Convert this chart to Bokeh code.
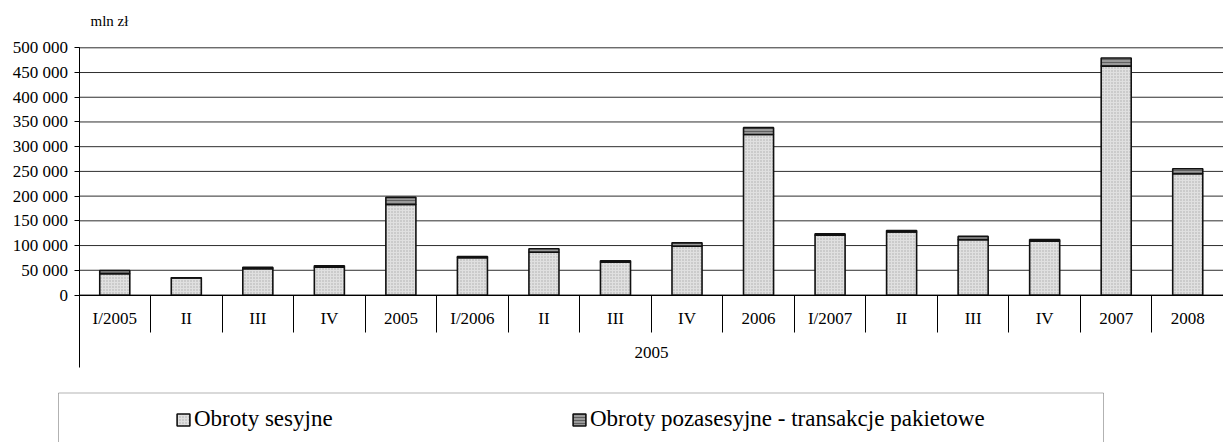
from bokeh.plotting import figure
from bokeh.models import (ColumnDataSource, FixedTicker, Label, Legend, LegendItem,
                          BoxAnnotation, Range1d)
from bokeh.embed import file_html
from bokeh.resources import INLINE

# ---------------- data ----------------
categories = ["I/2005", "II", "III", "IV", "2005", "I/2006", "II", "III", "IV", "2006",
              "I/2007", "II", "III", "IV", "2007", "2008"]
sesyjne = [43000, 34500, 53000, 56000, 183000, 75500, 86500, 66500, 98500, 324500,
           121000, 127500, 112000, 109000, 463000, 245500]
pakietowe = [6500, 300, 3000, 3000, 14500, 2500, 7000, 2800, 7000, 14000,
             3000, 3000, 6500, 3000, 16500, 10000]
y_ticks = [0, 50000, 100000, 150000, 200000, 250000, 300000, 350000, 400000, 450000, 500000]
y_tick_labels = ["0", "50 000", "100 000", "150 000", "200 000", "250 000", "300 000",
                 "350 000", "400 000", "450 000", "500 000"]
unit_label = "mln zł"
group_label = "2005"
legend_labels = ["Obroty sesyjne", "Obroty pozasesyjne - transakcje pakietowe"]

# ---------------- layout (pixels) ----------------
W, H = 1223, 442
axis_px = 78.5          # y axis position from canvas left
zero_px = 294.5         # zero line from canvas top
top_px = 47.3           # 500 000 line from canvas top
n = len(categories)
cat_w = (W - axis_px) / n
per_px = 500000 / (zero_px - top_px)

def xd(px):
    return (px - axis_px) / cat_w

def yd(px):
    return (zero_px - px) * per_px

FONT = "Liberation Serif"

p = figure(width=W, height=H, output_backend="svg", toolbar_location=None,
           x_range=Range1d(xd(0), xd(W)), y_range=Range1d(yd(H), yd(0)),
           min_border=0, min_border_left=0, min_border_right=0,
           min_border_top=0, min_border_bottom=0)
p.outline_line_color = None
p.xgrid.visible = False
p.ygrid.visible = False

xc = [i + 0.5 for i in range(n)]
totals = [a + b for a, b in zip(sesyjne, pakietowe)]
src = ColumnDataSource(dict(x=xc, ses=sesyjne, tot=totals, cat=categories))

# horizontal grid lines (from axis to right edge)
p.segment(x0=[0] * len(y_ticks), x1=[n] * len(y_ticks), y0=y_ticks, y1=y_ticks,
          line_color="#2e2e2e", line_width=1)

r1 = p.vbar(x="x", bottom=0, top="ses", width=0.42, source=src,
            fill_color="#e0e0e0", line_color="#111111", line_width=1.6,
            hatch_pattern="dot", hatch_color="#adadad", hatch_scale=3, hatch_weight=0.8)
r2 = p.vbar(x="x", bottom="ses", top="tot", width=0.42, source=src,
            fill_color="#9a9a9a", line_color="#111111", line_width=1.6,
            hatch_pattern="horizontal_line", hatch_color="#606060", hatch_scale=3,
            hatch_weight=1)

# y axis
ya = p.yaxis[0]
ya.fixed_location = 0
ya.bounds = (yd(367), 500000)
ya.ticker = FixedTicker(ticks=y_ticks)
ya.major_label_overrides = {t: l for t, l in zip(y_ticks, y_tick_labels)}
ya.minor_tick_line_color = None
ya.major_tick_out = 5
ya.major_tick_in = 0
ya.major_label_standoff = 6
ya.axis_line_color = "black"
ya.major_tick_line_color = "black"
ya.major_label_text_font = FONT
ya.major_label_text_font_size = "17px"
ya.major_label_text_color = "black"

# x axis
xa = p.xaxis[0]
xa.fixed_location = 0
xa.bounds = (0, n)
xa.ticker = FixedTicker(ticks=xc, minor_ticks=list(range(n + 1)))
xa.major_label_overrides = {x: c for x, c in zip(xc, categories)}
xa.major_tick_out = 0
xa.major_tick_in = 0
xa.minor_tick_out = 37
xa.minor_tick_in = 0
xa.minor_tick_line_color = "black"
xa.axis_line_color = "black"
xa.major_label_standoff = -23
xa.major_label_text_font = FONT
xa.major_label_text_font_size = "17px"
xa.major_label_text_color = "black"
xa.axis_label = group_label
xa.axis_label_standoff = 15
xa.axis_label_text_font = FONT
xa.axis_label_text_font_size = "17px"
xa.axis_label_text_font_style = "normal"
xa.axis_label_text_color = "black"

# unit label
p.add_layout(Label(x=xd(90), y=yd(20), text=unit_label, text_baseline="middle",
                   text_font=FONT, text_font_size="15px", text_color="black"))

# legend frame
p.add_layout(BoxAnnotation(left=xd(58), right=xd(1103), top=yd(392.5), bottom=yd(H + 60),
                           fill_alpha=0, line_color="black", line_width=1))

legend = Legend(items=[LegendItem(label=legend_labels[0], renderers=[r1]),
                       LegendItem(label=legend_labels[1], renderers=[r2])],
                orientation="horizontal", location=(175, 10), padding=0, spacing=0,
                margin=0, label_width=377, glyph_width=16, glyph_height=15,
                label_standoff=3, border_line_color=None, background_fill_alpha=0,
                label_text_font=FONT, label_text_font_size="23px",
                label_text_color="black")
p.add_layout(legend)

open("out.html", "w").write(file_html(p, INLINE))
